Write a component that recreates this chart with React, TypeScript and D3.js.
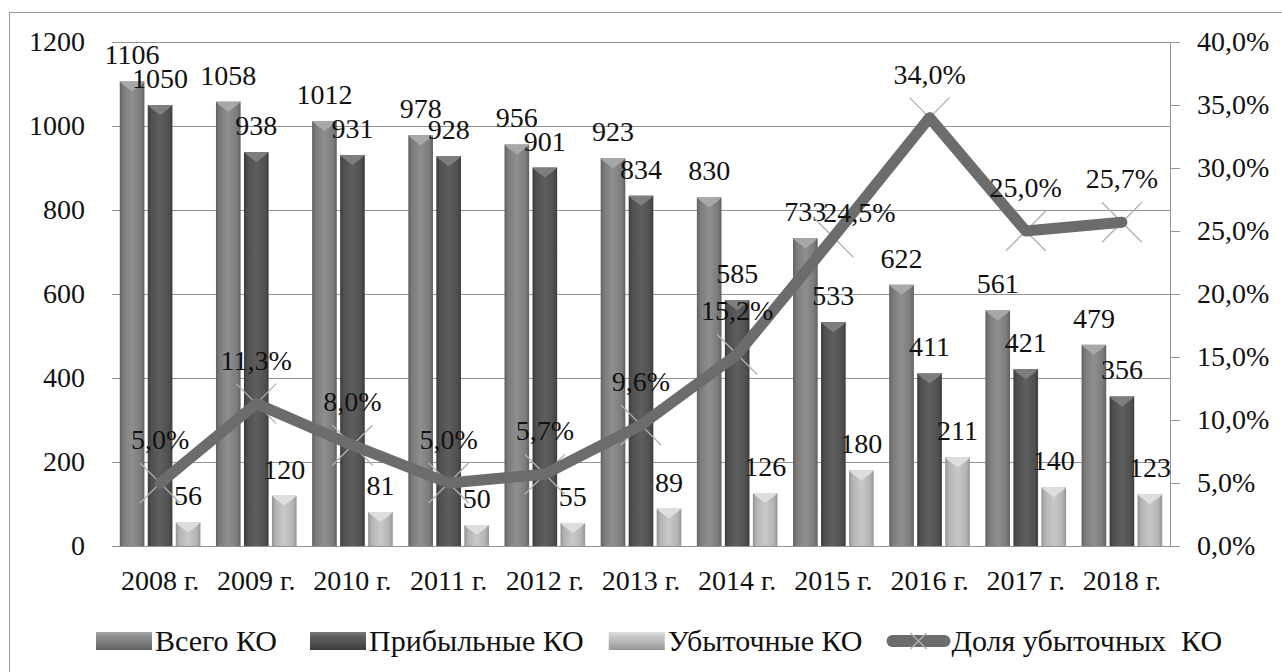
import * as d3 from 'd3';
import React, { useEffect, useRef } from 'react';

const years = ['2008 г.', '2009 г.', '2010 г.', '2011 г.', '2012 г.', '2013 г.', '2014 г.', '2015 г.', '2016 г.', '2017 г.', '2018 г.'];
const totalKO = [1106, 1058, 1012, 978, 956, 923, 830, 733, 622, 561, 479];
const profitKO = [1050, 938, 931, 928, 901, 834, 585, 533, 411, 421, 356];
const lossKO = [56, 120, 81, 50, 55, 89, 126, 180, 211, 140, 123];
const lossShare = [5.0, 11.3, 8.0, 5.0, 5.7, 9.6, 15.2, 24.5, 34.0, 25.0, 25.7];
const leftTicks = [0, 200, 400, 600, 800, 1000, 1200];
const rightTicks = [0, 5, 10, 15, 20, 25, 30, 35, 40];
const seriesNames = ['Всего КО', 'Прибыльные КО', 'Убыточные КО'];
const lineName = 'Доля убыточных  КО';

const W = 1282;
const H = 672;
const FONT = 'Liberation Serif, DejaVu Serif, serif';
const FS = 28;
const LEG_FS = 30;

// edge / body / highlight / bevel tones for each bar series
const tones = [
    { edge: '#606060', body: '#7c7c7c', light: '#8f8f8f', bevel: '#a8a8a8' },
    { edge: '#3c3c3c', body: '#505050', light: '#5e5e5e', bevel: '#7e7e7e' },
    { edge: '#939393', body: '#b4b4b4', light: '#c8c8c8', bevel: '#dedede' },
];

// one line label sits off its point in the original
const labelNudge: Record<number, [number, number]> = { 7: [26, 19] };

const fmt = (v: number) => v.toFixed(1).replace('.', ',') + '%';

const App: React.FC = () => {
    const svgRef = useRef<SVGSVGElement | null>(null);

    useEffect(() => {
        const root = d3.select(svgRef.current);
        root.selectAll('*').remove();
        const svg = root.attr('width', W).attr('height', H);

        const left = 112, right = 1170, top = 42, bottom = 546;

        const x = d3.scaleBand<string>().domain(years).range([left, right]);
        const sub = d3.scaleBand<number>().domain([0, 1, 2]).range([-42, 42]).paddingInner(0.12).paddingOuter(0.06);
        const yL = d3.scaleLinear().domain([0, 1200]).range([bottom, top]);
        const yR = d3.scaleLinear().domain([0, 40]).range([bottom, top]);

        const txt = (g: d3.Selection<any, any, any, any>, size = FS) =>
            g.attr('font-family', FONT).attr('font-size', size).attr('fill', '#111');

        const defs = svg.append('defs');
        tones.forEach((t, i) => {
            const g = defs.append('linearGradient').attr('id', `bar${i}`).attr('x1', 0).attr('x2', 1).attr('y1', 0).attr('y2', 0);
            [[0, t.edge], [0.15, t.body], [0.5, t.light], [0.85, t.body], [1, t.edge]].forEach(([o, c]) =>
                g.append('stop').attr('offset', o as number).attr('stop-color', c as string));
            const gv = defs.append('linearGradient').attr('id', `leg${i}`).attr('x1', 0).attr('x2', 0).attr('y1', 0).attr('y2', 1);
            [[0, t.bevel], [0.25, t.light], [0.6, t.body], [1, t.edge]].forEach(([o, c]) =>
                gv.append('stop').attr('offset', o as number).attr('stop-color', c as string));
        });

        // outer frame
        svg.append('rect').attr('x', 9.5).attr('y', 12.5).attr('width', W).attr('height', H)
            .attr('fill', 'white').attr('stroke', '#9a9a9a');

        // gridlines
        svg.append('g').selectAll('line').data(leftTicks.slice(1)).enter().append('line')
            .attr('x1', left).attr('x2', right)
            .attr('y1', d => Math.round(yL(d)) + 0.5).attr('y2', d => Math.round(yL(d)) + 0.5)
            .attr('stroke', '#959595');

        // left axis labels
        svg.append('g').selectAll('text').data(leftTicks).enter().append('text')
            .attr('x', 85).attr('y', d => yL(d) + 9)
            .attr('text-anchor', 'end').call(txt)
            .text(d => String(d));

        // right axis
        svg.append('line').attr('x1', right + 0.5).attr('x2', right + 0.5).attr('y1', top).attr('y2', bottom)
            .attr('stroke', '#959595');
        svg.append('g').selectAll('line').data(rightTicks).enter().append('line')
            .attr('x1', right).attr('x2', right + 10)
            .attr('y1', d => Math.round(yR(d)) + 0.5).attr('y2', d => Math.round(yR(d)) + 0.5)
            .attr('stroke', '#959595');
        svg.append('g').selectAll('text').data(rightTicks).enter().append('text')
            .attr('x', 1197).attr('y', d => yR(d) + 9)
            .call(txt)
            .text(d => fmt(d));

        // bars
        const series = [totalKO, profitKO, lossKO];
        series.forEach((vals, si) => {
            const g = svg.append('g');
            const bx = (i: number) => (x(years[i]) as number) + x.bandwidth() / 2 + (sub(si) as number);
            const bw = sub.bandwidth();
            g.selectAll('rect').data(vals).enter().append('rect')
                .attr('x', (_, i) => bx(i)).attr('y', d => yL(d))
                .attr('width', bw).attr('height', d => bottom - yL(d))
                .attr('fill', `url(#bar${si})`);
            g.selectAll('polygon').data(vals).enter().append('polygon')
                .attr('points', (d, i) => {
                    const x0 = bx(i), y0 = yL(d);
                    return `${x0},${y0} ${x0 + bw},${y0} ${x0 + bw - 3},${y0 + 3} ${x0 + bw / 2},${y0 + 10} ${x0 + 3},${y0 + 3}`;
                })
                .attr('fill', tones[si].bevel);
            g.selectAll('text').data(vals).enter().append('text')
                .attr('x', (_, i) => bx(i) + bw / 2).attr('y', d => yL(d) - 17)
                .attr('text-anchor', 'middle').call(txt)
                .text(d => String(d));
        });

        // x axis
        svg.append('line').attr('x1', left).attr('x2', right)
            .attr('y1', bottom + 0.5).attr('y2', bottom + 0.5).attr('stroke', '#959595');
        svg.append('g').selectAll('text').data(years).enter().append('text')
            .attr('x', d => (x(d) as number) + x.bandwidth() / 2).attr('y', 590)
            .attr('text-anchor', 'middle').call(txt)
            .text(d => d);

        // line series
        const px = (i: number) => (x(years[i]) as number) + x.bandwidth() / 2;
        const line = d3.line<number>().x((_, i) => px(i)).y(d => yR(d));
        const drawCross = (g: d3.Selection<SVGGElement, unknown, null, undefined>, cx: number, cy: number, r: number) => {
            g.append('path')
                .attr('d', `M${cx - r},${cy - r}L${cx + r},${cy + r}M${cx - r},${cy + r}L${cx + r},${cy - r}`)
                .attr('stroke', '#b0b0b0').attr('stroke-width', 1.3).attr('fill', 'none');
        };
        const markerG = svg.append('g');
        lossShare.forEach((v, i) => drawCross(markerG, px(i), yR(v), 20));
        svg.append('path').datum(lossShare).attr('d', line)
            .attr('fill', 'none').attr('stroke', '#6c6c6c').attr('stroke-width', 11)
            .attr('stroke-linejoin', 'round').attr('stroke-linecap', 'round');
        svg.append('g').selectAll('text').data(lossShare).enter().append('text')
            .attr('x', (_, i) => px(i) + (labelNudge[i] ? labelNudge[i][0] : 0))
            .attr('y', (d, i) => yR(d) - 34 + (labelNudge[i] ? labelNudge[i][1] : 0))
            .attr('text-anchor', 'middle').call(txt)
            .text(d => fmt(d));

        // legend
        const leg = svg.append('g');
        let lx = 96;
        const ly = 641;
        const gaps = [33, 25, 24];
        seriesNames.forEach((name, i) => {
            leg.append('rect').attr('x', lx).attr('y', ly - 9).attr('width', 56).attr('height', 18)
                .attr('fill', `url(#leg${i})`);
            const t = leg.append('text').attr('x', lx + 59).attr('y', ly + 10)
                .call(txt, LEG_FS).text(name);
            const tw = (t.node() as SVGTextElement).getComputedTextLength();
            lx = lx + 59 + tw + gaps[i];
        });
        leg.append('line').attr('x1', lx + 6).attr('x2', lx + 58).attr('y1', ly).attr('y2', ly)
            .attr('stroke', '#6c6c6c').attr('stroke-width', 12).attr('stroke-linecap', 'round');
        drawCross(leg, lx + 32, ly, 8);
        leg.append('text').attr('x', lx + 65).attr('y', ly + 10)
            .call(txt, LEG_FS).style('white-space', 'pre')
            .text(lineName);
    }, []);

    return <svg ref={svgRef} style={{ position: 'absolute', left: 0, top: 0 }}></svg>;
};

export default App;
